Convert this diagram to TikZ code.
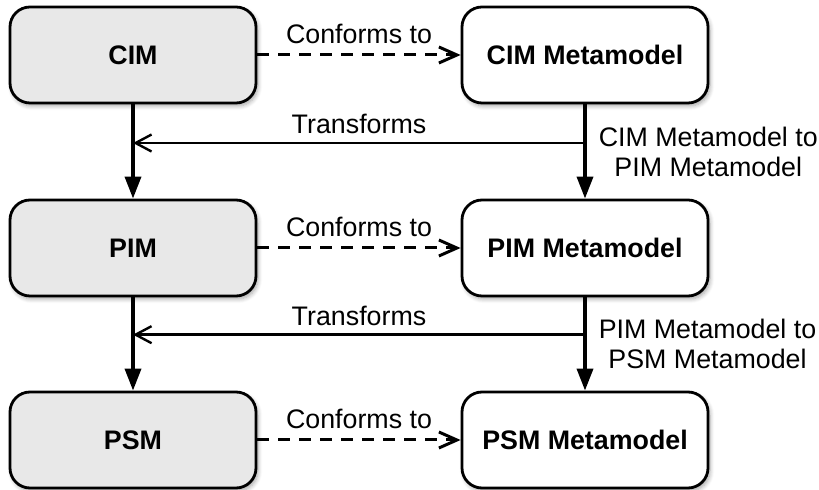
\documentclass[tikz,border=0pt]{standalone}
\usepackage{fontspec}
\setmainfont{Liberation Sans}
\usetikzlibrary{arrows.meta, shadows.blur}

\definecolor{modelfill}{HTML}{E8E8E8}

\tikzset{
    modelbox/.style = {draw, line width=1.4pt, rounded corners=10pt,
                       minimum width=123pt, minimum height=48pt,
                       font=\fontsize{13.4pt}{15pt}\selectfont\bfseries,
                       blur shadow={shadow xshift=1pt, shadow yshift=-1.5pt,
                                    shadow opacity=35, shadow blur steps=6}},
    levelbox/.style = {modelbox, fill=modelfill},
    metabox/.style  = {modelbox, fill=white},
    conform/.style  = {line width=1.5pt, dash pattern=on 6pt off 4.5pt,
                       -{Straight Barb[length=9pt, width=8pt, line width=1.5pt]}},
    transform/.style = {line width=1.8pt, -{Triangle[length=11pt, width=8pt]}},
    mapping/.style  = {line width=1.2pt,
                       -{Straight Barb[length=8pt, width=8.5pt, line width=1.2pt]}},
    lbl/.style      = {font=\fontsize{13.4pt}{15pt}\selectfont}
}

\begin{document}
\begin{tikzpicture}[x = {(0.5pt,0pt)},
                    y = {(0pt,-0.5pt)}]

    \useasboundingbox (0,0) rectangle (819,490);

    % model levels
    \node[levelbox] (cim) at (133,55)  {CIM};
    \node[levelbox] (pim) at (133,248) {PIM};
    \node[levelbox] (psm) at (133,440) {PSM};

    % metamodels
    \node[metabox] (cimmeta) at (585,55)  {CIM Metamodel};
    \node[metabox] (pimmeta) at (585,248) {PIM Metamodel};
    \node[metabox] (psmmeta) at (585,440) {PSM Metamodel};

    % conformance
    \draw[conform] (cim) -- (cimmeta) node[lbl, midway, above, inner sep=5pt] {Conforms to};
    \draw[conform] (pim) -- (pimmeta) node[lbl, midway, above, inner sep=5pt] {Conforms to};
    \draw[conform] (psm) -- (psmmeta) node[lbl, midway, above, inner sep=5pt] {Conforms to};

    % metamodel transformations
    \draw[transform] (cimmeta) -- (pimmeta)
        node[lbl, midway, right, align=center, inner sep=0pt, xshift=6pt] {CIM Metamodel to\\PIM Metamodel};
    \draw[transform] (pimmeta) -- (psmmeta)
        node[lbl, midway, right, align=center, inner sep=0pt, xshift=6pt] {PIM Metamodel to\\PSM Metamodel};

    % model transformations
    \draw[transform] (cim) -- (pim);
    \draw[transform] (pim) -- (psm);

    \path (cimmeta.south) -- (pimmeta.north) coordinate[pos=0.41] (cimtrans);
    \path (pimmeta.south) -- (psmmeta.north) coordinate[pos=0.40] (pimtrans);
    \draw[mapping] (cimtrans) -- (cimtrans -| cim.south)
        node[lbl, midway, above, inner sep=4pt] {Transforms};
    \draw[mapping] (pimtrans) -- (pimtrans -| pim.south)
        node[lbl, midway, above, inner sep=4pt] {Transforms};
\end{tikzpicture}
\end{document}
